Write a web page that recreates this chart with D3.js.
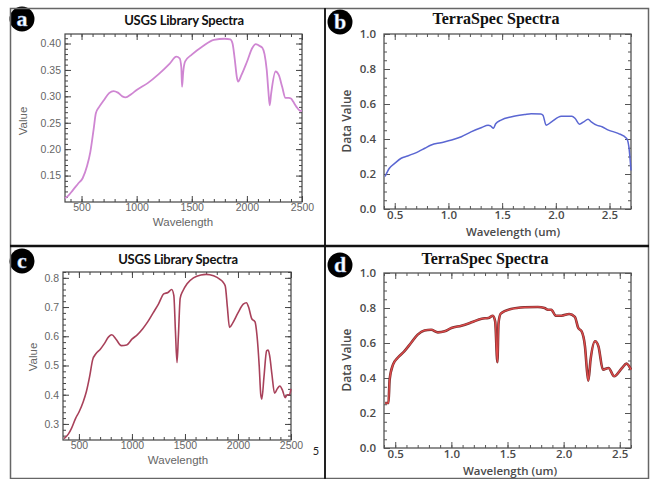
<!DOCTYPE html>
<html><head><meta charset="utf-8">
<script src="https://cdn.jsdelivr.net/npm/d3@7"></script>
<style>html,body{margin:0;padding:0;background:#fff;} svg{display:block;}</style>
</head><body>
<svg id="chart" width="650" height="479"></svg>
<script>
// ---------- DATA ----------
// Panel a: USGS library spectrum (nm)
const aWavelength = [350,380,420,470,510,550,580,610,630,660,700,750,790,830,870,900,950,1000,1100,1200,1300,1360,1390,1405,1412,1422,1440,1500,1600,1700,1800,1850,1870,1890,1910,1920,1950,2000,2050,2080,2110,2140,2160,2180,2195,2207,2220,2260,2290,2320,2350,2380,2400,2420,2450,2480,2500];
const aValue = [0.107,0.112,0.122,0.135,0.145,0.168,0.195,0.238,0.268,0.280,0.292,0.306,0.310,0.307,0.300,0.298,0.304,0.312,0.325,0.342,0.362,0.375,0.372,0.355,0.318,0.345,0.366,0.379,0.395,0.407,0.409,0.408,0.400,0.370,0.335,0.328,0.340,0.365,0.392,0.399,0.396,0.392,0.380,0.350,0.310,0.283,0.305,0.347,0.340,0.318,0.297,0.297,0.296,0.290,0.280,0.273,0.272];

// Panel b: TerraSpec spectrum (um)
const bWavelength = [0.41,0.45,0.50,0.56,0.62,0.72,0.78,0.84,0.93,1.03,1.12,1.21,1.31,1.37,1.39,1.41,1.42,1.44,1.49,1.59,1.71,1.77,1.86,1.88,1.91,1.96,2.05,2.15,2.18,2.22,2.26,2.30,2.33,2.38,2.43,2.49,2.58,2.66,2.68,2.70];
const bValue = [0.186,0.233,0.261,0.290,0.303,0.328,0.347,0.366,0.379,0.394,0.413,0.441,0.466,0.478,0.476,0.465,0.462,0.487,0.508,0.527,0.540,0.545,0.543,0.536,0.479,0.498,0.530,0.530,0.517,0.485,0.498,0.513,0.498,0.479,0.470,0.451,0.432,0.403,0.356,0.220];

// Panel c: USGS library spectrum (nm)
const cWavelength = [360,400,430,470,500,540,570,600,630,660,700,740,780,810,850,900,950,1000,1050,1100,1150,1200,1250,1300,1340,1375,1395,1410,1425,1438,1455,1480,1520,1580,1650,1700,1770,1830,1860,1880,1900,1920,1950,2000,2050,2080,2100,2130,2160,2180,2200,2215,2225,2245,2270,2285,2300,2320,2345,2370,2395,2420,2445,2465,2485,2500];
const cValue = [0.250,0.265,0.285,0.320,0.340,0.375,0.410,0.460,0.520,0.540,0.555,0.575,0.598,0.605,0.590,0.568,0.570,0.590,0.605,0.625,0.650,0.680,0.710,0.745,0.750,0.760,0.740,0.620,0.510,0.600,0.730,0.755,0.780,0.800,0.810,0.812,0.807,0.795,0.785,0.772,0.700,0.630,0.645,0.680,0.710,0.715,0.700,0.660,0.650,0.600,0.500,0.400,0.385,0.460,0.550,0.553,0.530,0.470,0.405,0.420,0.430,0.415,0.390,0.400,0.400,0.420];

// Panel d: TerraSpec spectrum (um)
const dWavelength = [0.41,0.44,0.45,0.48,0.52,0.58,0.64,0.70,0.76,0.82,0.88,0.94,1.00,1.09,1.18,1.27,1.33,1.37,1.39,1.41,1.42,1.44,1.53,1.65,1.77,1.83,1.86,1.89,1.93,1.98,2.05,2.10,2.13,2.16,2.19,2.21,2.22,2.24,2.28,2.31,2.35,2.40,2.45,2.52,2.56,2.60];
const dValue = [0.257,0.257,0.390,0.476,0.514,0.552,0.600,0.648,0.672,0.676,0.661,0.667,0.686,0.699,0.718,0.739,0.743,0.756,0.724,0.490,0.714,0.768,0.794,0.804,0.806,0.800,0.790,0.790,0.756,0.756,0.766,0.749,0.686,0.667,0.581,0.429,0.385,0.505,0.610,0.581,0.448,0.457,0.410,0.457,0.482,0.448];

// Tick labels
const usgsXTicks = [500,1000,1500,2000,2500];
const aYTicks = [0.15,0.20,0.25,0.30,0.35,0.40];
const cYTicks = [0.3,0.4,0.5,0.6,0.7,0.8];
const terraYTicks = [0.0,0.2,0.4,0.6,0.8,1.0];
const terraXTicks = [0.5,1.0,1.5,2.0,2.5];

const titles = ["USGS Library Spectra","TerraSpec Spectra","USGS Library Spectra","TerraSpec Spectra"];
const badges = ["a","b","c","d"];

// ---------- DRAW ----------
const svg = d3.select("#chart");

function range(a,b,s){const r=[];for(let v=a;v<=b+1e-9;v+=s)r.push(+v.toFixed(4));return r;}

function panel(o){
  const g = svg.append("g");
  const x = d3.scaleLinear().domain(o.xDomain).range([o.x0,o.x1]);
  const y = d3.scaleLinear().domain(o.yDomain).range([o.y1,o.y0]);
  const idl = o.style==="idl";
  const axisColor = idl ? "#444" : "#555";
  const minX = range(o.xMinor[0],o.xDomain[1],o.xMinor[1]).filter(v=>v>=o.xDomain[0]);
  const minY = range(o.yMinor[0],o.yDomain[1],o.yMinor[1]).filter(v=>v>=o.yDomain[0]);

  function style(sel){
    sel.select(".domain").remove();
    sel.selectAll("line").attr("stroke",axisColor).attr("stroke-width",1);
  }
  // minor ticks on four sides
  g.append("g").attr("transform",`translate(0,${o.y1})`).call(d3.axisBottom(x).tickValues(minX).tickSize(-3).tickFormat("")).call(style);
  g.append("g").attr("transform",`translate(0,${o.y0})`).call(d3.axisTop(x).tickValues(minX).tickSize(-3).tickFormat("")).call(style);
  g.append("g").attr("transform",`translate(${o.x0},0)`).call(d3.axisLeft(y).tickValues(minY).tickSize(-3).tickFormat("")).call(style);
  g.append("g").attr("transform",`translate(${o.x1},0)`).call(d3.axisRight(y).tickValues(minY).tickSize(-3).tickFormat("")).call(style);
  // major ticks
  const font = idl ? "Liberation Sans, Arial, sans-serif" : "Open Sans, sans-serif";
  const fw = idl ? 400 : 600;
  const fs = idl ? 10.5 : 11.5;
  const fc = idl ? "#666" : "#4a4a4a";
  const bx = g.append("g").attr("transform",`translate(0,${o.y1})`)
    .call(d3.axisBottom(x).tickValues(o.xTicks).tickSize(-6).tickPadding(2).tickFormat(o.xFmt)).call(style);
  const ly = g.append("g").attr("transform",`translate(${o.x0},0)`)
    .call(d3.axisLeft(y).tickValues(o.yTicks).tickSize(-6).tickPadding(idl?4:8).tickFormat(o.yFmt)).call(style);
  g.append("g").attr("transform",`translate(0,${o.y0})`).call(d3.axisTop(x).tickValues(o.xTicks).tickSize(-6).tickFormat("")).call(style);
  g.append("g").attr("transform",`translate(${o.x1},0)`).call(d3.axisRight(y).tickValues(o.yTicks).tickSize(-6).tickFormat("")).call(style);
  [bx,ly].forEach(s=>s.selectAll("text").attr("font-family",font).attr("font-weight",fw).attr("font-size",fs).attr("fill",fc));

  // frame
  g.append("rect").attr("x",o.x0).attr("y",o.y0).attr("width",o.x1-o.x0).attr("height",o.y1-o.y0)
    .attr("fill","none").attr("stroke",axisColor).attr("stroke-width",idl?1.2:1.3);

  // line
  const line = d3.line().x(d=>x(d[0])).y(d=>y(d[1])).curve(d3.curveMonotoneX);
  const pts = o.wl.map((w,i)=>[w,o.val[i]]);
  if(o.under){
    g.append("path").datum(pts).attr("d",line).attr("fill","none").attr("stroke",o.under).attr("stroke-width",2.6).attr("stroke-linejoin","round");
  }
  g.append("path").datum(pts).attr("d",line).attr("fill","none").attr("stroke",o.color).attr("stroke-width",o.lw).attr("stroke-linejoin","round");

  // axis titles
  g.append("text").attr("x",o.xtX).attr("y",o.xtY).attr("text-anchor","middle")
    .attr("font-family",font).attr("font-weight",fw).attr("font-size",11.5).attr("fill",fc).text(o.xTitle);
  g.append("text").attr("transform",`translate(${o.ytX},${o.ytY}) rotate(-90)`).attr("text-anchor","middle")
    .attr("font-family",font).attr("font-weight",fw).attr("font-size",idl?11.5:12).attr("fill",fc).text(o.yTitle);

  // chart title
  g.append("text").attr("x",o.tX).attr("y",o.tY).attr("text-anchor","middle")
    .attr("font-family", idl ? "Lato, Open Sans, sans-serif" : "Liberation Serif, Times New Roman, serif")
    .attr("font-weight",700).attr("font-size",idl?13:16).attr("fill","#111").attr("letter-spacing", idl? -0.2:0).text(o.title);

  // badge
  g.append("circle").attr("cx",o.bX).attr("cy",o.bY).attr("r",12.5).attr("fill","#000");
  g.append("text").attr("x",o.bX).attr("y",o.bY+6.5).attr("text-anchor","middle")
    .attr("font-family","Liberation Serif, serif").attr("font-weight",700).attr("font-size",22)
    .attr("fill","#fff").attr("stroke","#8ab4e8").attr("stroke-width",0.4).text(o.badge);
}

const f2 = d3.format(".2f"), f1 = d3.format(".1f"), f0 = d3.format("d");

panel({style:"idl", x0:65,x1:302,y0:34,y1:202, xDomain:[350,2500], yDomain:[0.10,0.418],
  xTicks:usgsXTicks, yTicks:aYTicks, xMinor:[400,100], yMinor:[0.11,0.01], xFmt:f0, yFmt:f2,
  wl:aWavelength, val:aValue, color:"#cf86d2", lw:1.8,
  xTitle:"Wavelength", xtX:183, xtY:226, yTitle:"Value", ytX:27, ytY:121,
  title:titles[0], tX:184, tY:25, badge:badges[0], bX:22, bY:19});

panel({style:"terra", x0:384,x1:631,y0:34,y1:209, xDomain:[0.4,2.7], yDomain:[0,1],
  xTicks:terraXTicks, yTicks:terraYTicks, xMinor:[0.4,0.1], yMinor:[0,0.05], xFmt:f1, yFmt:f1,
  wl:bWavelength, val:bValue, color:"#5a66d2", lw:1.5,
  xTitle:"Wavelength (um)", xtX:513, xtY:236, yTitle:"Data Value", ytX:351, ytY:121,
  title:titles[1], tX:496, tY:24, badge:badges[1], bX:340, bY:22});

panel({style:"idl", x0:63,x1:291,y0:272,y1:440, xDomain:[350,2500], yDomain:[0.245,0.82],
  xTicks:usgsXTicks, yTicks:cYTicks, xMinor:[400,100], yMinor:[0.26,0.02], xFmt:f0, yFmt:f1,
  wl:cWavelength, val:cValue, color:"#a8415a", lw:1.6,
  xTitle:"Wavelength", xtX:178, xtY:464, yTitle:"Value", ytX:37, ytY:357,
  title:titles[2], tX:178, tY:264, badge:badges[2], bX:22, bY:261});

panel({style:"terra", x0:384,x1:631,y0:273,y1:448, xDomain:[0.4,2.6], yDomain:[0,1],
  xTicks:terraXTicks, yTicks:terraYTicks, xMinor:[0.4,0.1], yMinor:[0,0.05], xFmt:f1, yFmt:f1,
  wl:dWavelength, val:dValue, color:"#e04a4a", under:"#7a3030", lw:1.3,
  xTitle:"Wavelength (um)", xtX:510, xtY:475, yTitle:"Data Value", ytX:351, ytY:360,
  title:titles[3], tX:485, tY:264, badge:badges[3], bX:340, bY:265});

// stray page number in the source figure
svg.append("text").attr("x",316).attr("y",455).attr("text-anchor","middle")
  .attr("font-family","Lato, sans-serif").attr("font-size",11).attr("fill","#222").text("5");

// frame / dividers
svg.append("rect").attr("x",10.5).attr("y",8.5).attr("width",638).attr("height",470)
  .attr("fill","none").attr("stroke","#666").attr("stroke-width",1.5);
svg.append("line").attr("x1",325).attr("x2",325).attr("y1",8).attr("y2",479).attr("stroke","#222").attr("stroke-width",2);
svg.append("line").attr("x1",10).attr("x2",649).attr("y1",246).attr("y2",246).attr("stroke","#111").attr("stroke-width",2.5);
</script>
</body></html>
